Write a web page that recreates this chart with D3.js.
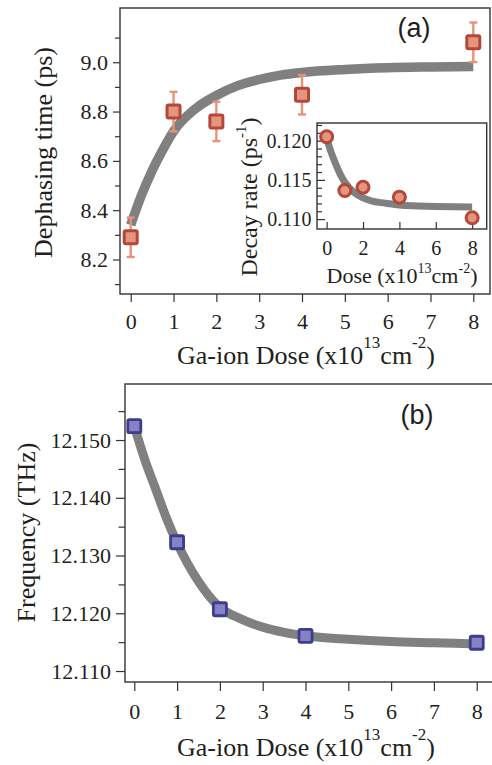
<!DOCTYPE html>
<html><head><meta charset="utf-8">
<script src="https://cdn.jsdelivr.net/npm/d3@7"></script>
<style>
body{margin:0;background:#fff}
svg{display:block}
text{font-family:"Liberation Serif","Times New Roman",serif;fill:#231f20}
text.lab{font-family:"Liberation Sans",Arial,sans-serif}
</style></head><body>
<svg id="c" width="492" height="765"></svg>
<script>
// ---- data ----
const dose = [0, 1, 2, 4, 8];
const dephasing = [8.29, 8.80, 8.76, 8.868, 9.081];
const dephasingErr = [0.08, 0.08, 0.08, 0.08, 0.08];
const decayRate = [0.1205, 0.11364, 0.11407, 0.1128, 0.11017];
const frequency = [12.1524, 12.1323, 12.1207, 12.1161, 12.1149];
const fitDose = [0, 0.25, 0.5, 0.75, 1, 1.5, 2, 2.5, 3, 3.5, 4, 5, 6, 7, 8];
const dephasingFit = [8.34, 8.46, 8.56, 8.645, 8.72, 8.81, 8.865, 8.905, 8.93, 8.948, 8.959, 8.971, 8.978, 8.981, 8.983];
const decayFit = [0.1203, 0.1185, 0.1170, 0.1157, 0.1147, 0.1134, 0.1127, 0.1123, 0.1121, 0.11195, 0.1118, 0.11168, 0.1116, 0.11156, 0.11153];
const frequencyFit = [12.1524, 12.1465, 12.1415, 12.1365, 12.1322, 12.1255, 12.1210, 12.1190, 12.1176, 12.1167, 12.1161, 12.1155, 12.1151, 12.1149, 12.1147];
const xTicksMain = [0, 1, 2, 3, 4, 5, 6, 7, 8];
const xTicksInset = [0, 2, 4, 6, 8];
const yTicksA = [8.2, 8.4, 8.6, 8.8, 9.0];
const yMinorA = [8.1, 8.3, 8.5, 8.7, 8.9, 9.1];
const yTicksInset = [0.110, 0.115, 0.120];
const yMinorInset = [0.111, 0.112, 0.113, 0.114, 0.116, 0.117, 0.118, 0.119, 0.121, 0.122];
const yTicksB = [12.110, 12.120, 12.130, 12.140, 12.150];
const yMinorB = [12.115, 12.125, 12.135, 12.145, 12.155];

const svg = d3.select("#c");
const SERIF = '"Liberation Serif","Times New Roman",serif';
const GRAY = "#808080", FRAME = "#333";
const RED_S = "#b5473a", RED_F = "#e3957e", ERR = "#e8927c";
const BLUE_S = "#3e3d8c", BLUE_F = "#8582c6";

function style(g, fs) {
  g.attr("font-family", SERIF).attr("font-size", fs);
  g.select(".domain").remove();
  g.selectAll("line").attr("stroke", FRAME).attr("stroke-width", 1.2);
  g.selectAll("text").attr("font-size", fs).attr("fill", "#231f20").attr("font-family", SERIF);
}
function title(g, parts, x, y, fs, supFs, supShift, rotate) {
  const t = g.append("text").attr("font-size", fs).attr("text-anchor", "middle").attr("font-family", SERIF)
    .attr("transform", rotate ? `translate(${x},${y}) rotate(-90)` : `translate(${x},${y})`);
  let shifted = false;
  parts.forEach(p => {
    const s = t.append("tspan").text(p.t);
    if (p.sup) { s.attr("font-size", supFs).attr("dy", shifted ? 0 : -supShift); shifted = true; }
    else { if (shifted) s.attr("dy", supShift); shifted = false; }
  });
  return t;
}
const doseTitle = [{t: "Ga-ion Dose (x10"}, {t: "13", sup: 1}, {t: "cm"}, {t: "-2", sup: 1}, {t: ")"}];

// ================= Panel (a) =================
const xA = d3.scaleLinear().domain([-0.25, 8.39]).range([120, 490]);
const yA = d3.scaleLinear().domain([8.06, 9.22]).range([294, 8]);
const gA = svg.append("g");
gA.append("rect").attr("x", 120).attr("y", 8).attr("width", 370).attr("height", 286)
  .attr("fill", "none").attr("stroke", FRAME).attr("stroke-width", 1.4);
gA.append("g").attr("transform", "translate(120,0)")
  .call(d3.axisLeft(yA).tickValues(yTicksA).tickFormat(d3.format(".1f")).tickSize(7).tickPadding(5))
  .call(g => style(g, 22));
gA.append("g").attr("transform", "translate(120,0)")
  .call(d3.axisLeft(yA).tickValues(yMinorA).tickFormat("").tickSize(5))
  .call(g => style(g, 22));
gA.append("g").attr("transform", "translate(0,294)")
  .call(d3.axisBottom(xA).tickValues(xTicksMain).tickFormat(d3.format("d")).tickSize(8).tickPadding(11.5))
  .call(g => style(g, 22));
title(gA, doseTitle, 306, 363.5, 26, 17, 16, false);
title(gA, [{t: "Dephasing time (ps)"}], 52, 152.5, 26, 17, 16, true);
gA.append("text").attr("class", "lab").attr("x", 414).attr("y", 37).attr("text-anchor", "middle")
  .attr("font-size", 27).text("(a)");

const lineA = d3.line().x((d, i) => xA(fitDose[i])).y(d => yA(d)).curve(d3.curveMonotoneX);
gA.append("path").datum(dephasingFit).attr("d", lineA).attr("fill", "none")
  .attr("stroke", GRAY).attr("stroke-width", 9.5);

const ptsA = gA.append("g");
dose.forEach((d, i) => {
  const cx = xA(d), y0 = yA(dephasing[i] - dephasingErr[i]), y1 = yA(dephasing[i] + dephasingErr[i]);
  ptsA.append("line").attr("x1", cx).attr("x2", cx).attr("y1", y0).attr("y2", y1).attr("stroke", ERR).attr("stroke-width", 2.4);
  [y0, y1].forEach(yy => ptsA.append("line").attr("x1", cx - 4).attr("x2", cx + 4).attr("y1", yy).attr("y2", yy)
    .attr("stroke", ERR).attr("stroke-width", 2.4));
});
ptsA.selectAll("rect").data(dose).join("rect")
  .attr("x", d => xA(d) - 6.5).attr("y", (d, i) => yA(dephasing[i]) - 6.5)
  .attr("width", 13).attr("height", 13).attr("rx", 1.5)
  .attr("fill", RED_F).attr("stroke", RED_S).attr("stroke-width", 3);

// ---- inset ----
const xI = d3.scaleLinear().domain([-0.53, 8.8]).range([317, 486.7]);
const yI = d3.scaleLinear().domain([0.10874, 0.12225]).range([229, 123]);
const gI = svg.append("g");
gI.append("rect").attr("x", 317).attr("y", 123).attr("width", 169.7).attr("height", 106)
  .attr("fill", "#fff").attr("stroke", FRAME).attr("stroke-width", 1.4);
gI.append("g").attr("transform", "translate(317,0)")
  .call(d3.axisLeft(yI).tickValues(yTicksInset).tickFormat(d3.format(".3f")).tickSizeInner(-8).tickSizeOuter(0).tickPadding(5.5))
  .call(g => style(g, 20));
gI.append("g").attr("transform", "translate(317,0)")
  .call(d3.axisLeft(yI).tickValues(yMinorInset).tickFormat("").tickSizeInner(-5).tickSizeOuter(0))
  .call(g => style(g, 20));
gI.append("g").attr("transform", "translate(0,229)")
  .call(d3.axisBottom(xI).tickValues(xTicksInset).tickFormat(d3.format("d")).tickSizeInner(-7).tickSizeOuter(0).tickPadding(12))
  .call(g => style(g, 20));
title(gI, [{t: "Dose (x10"}, {t: "13", sup: 1}, {t: "cm"}, {t: "-2", sup: 1}, {t: ")"}], 402, 283, 22, 14, 10.5, false);
title(gI, [{t: "Decay rate (ps"}, {t: "-1", sup: 1}, {t: ")"}], 257, 197, 24, 15, 11, true);
const lineI = d3.line().x((d, i) => xI(fitDose[i])).y(d => yI(d)).curve(d3.curveMonotoneX);
gI.append("path").datum(decayFit).attr("d", lineI).attr("fill", "none")
  .attr("stroke", GRAY).attr("stroke-width", 7);
gI.selectAll("circle").data(dose).join("circle")
  .attr("cx", d => xI(d)).attr("cy", (d, i) => yI(decayRate[i])).attr("r", 6)
  .attr("fill", RED_F).attr("stroke", RED_S).attr("stroke-width", 3);

// ================= Panel (b) =================
const xB = d3.scaleLinear().domain([-0.217, 8.38]).range([125, 493]);
const yB = d3.scaleLinear().domain([12.1081, 12.1597]).range([682, 384]);
const gB = svg.append("g");
gB.append("rect").attr("x", 125).attr("y", 384).attr("width", 368).attr("height", 298)
  .attr("fill", "none").attr("stroke", FRAME).attr("stroke-width", 1.4);
gB.append("g").attr("transform", "translate(125,0)")
  .call(d3.axisLeft(yB).tickValues(yTicksB).tickFormat(d3.format(".3f")).tickSize(9).tickPadding(5))
  .call(g => style(g, 22));
gB.append("g").attr("transform", "translate(125,0)")
  .call(d3.axisLeft(yB).tickValues(yMinorB).tickFormat("").tickSize(6.5))
  .call(g => style(g, 22));
gB.append("g").attr("transform", "translate(0,682)")
  .call(d3.axisBottom(xB).tickValues(xTicksMain).tickFormat(d3.format("d")).tickSize(9).tickPadding(12))
  .call(g => style(g, 22));
title(gB, doseTitle, 306, 756, 26, 17, 16, false);
title(gB, [{t: "Frequency (THz)"}], 35, 532.5, 26, 17, 16, true);
gB.append("text").attr("class", "lab").attr("x", 417).attr("y", 424).attr("text-anchor", "middle")
  .attr("font-size", 27).text("(b)");
const lineB = d3.line().x((d, i) => xB(fitDose[i])).y(d => yB(d)).curve(d3.curveMonotoneX);
gB.append("path").datum(frequencyFit).attr("d", lineB).attr("fill", "none")
  .attr("stroke", GRAY).attr("stroke-width", 9);
gB.selectAll("rect.pt").data(dose).join("rect").attr("class", "pt")
  .attr("x", d => xB(d) - 6.5).attr("y", (d, i) => yB(frequency[i]) - 6.5)
  .attr("width", 13).attr("height", 13).attr("rx", 1.5)
  .attr("fill", BLUE_F).attr("stroke", BLUE_S).attr("stroke-width", 2.8);
</script>
</body></html>
